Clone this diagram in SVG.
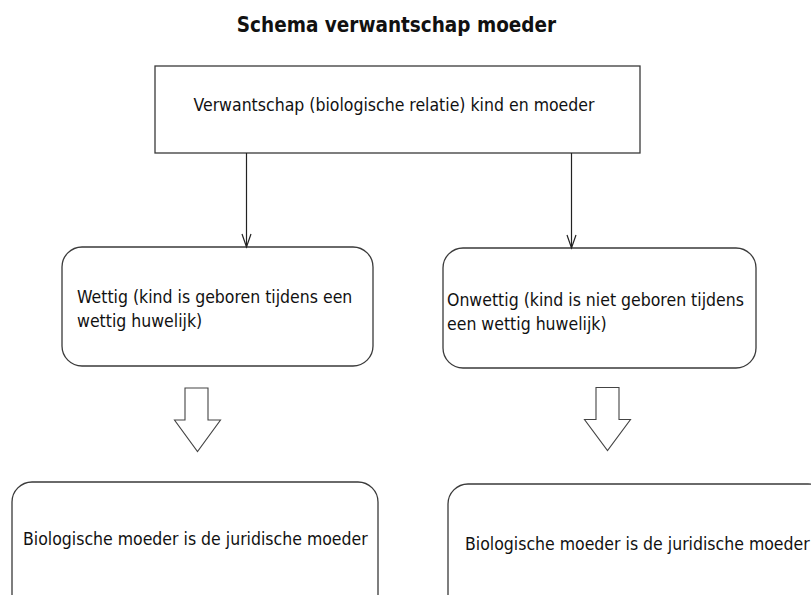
<svg xmlns="http://www.w3.org/2000/svg" width="811" height="595" viewBox="0 0 811 595">
<style>
.box{fill:#fff;stroke:#3a3a3a;stroke-width:1.3}
.t{font-family:"DejaVu Sans Condensed","DejaVu Sans",sans-serif;font-stretch:condensed;font-size:17.5px;fill:#111}
.title{font-family:"DejaVu Sans Condensed","DejaVu Sans",sans-serif;font-stretch:condensed;font-size:20.5px;font-weight:bold;fill:#111}
.conn{fill:none;stroke:#222;stroke-width:1.2}
.block{fill:#fff;stroke:#444;stroke-width:1.1}
</style>
<defs>
<marker id="v" markerWidth="16" markerHeight="12" refX="14" refY="5" orient="auto" markerUnits="userSpaceOnUse" viewBox="0 0 16 10">
<path d="M1,0.5 L14,5 L1,9.5" fill="none" stroke="#222" stroke-width="1.2"/>
</marker>
</defs>
<rect width="811" height="595" fill="#fff"/>
<text id="title" class="title" x="396.5" y="32" text-anchor="middle">Schema verwantschap moeder</text>
<g id="top">
<rect class="box" x="155" y="66" width="485" height="87"/>
<text class="t" x="394" y="111" text-anchor="middle">Verwantschap (biologische relatie) kind en moeder</text>
</g>
<g id="wettig">
<rect class="box" x="62" y="247" width="311" height="119" rx="20" ry="20"/>
<text class="t" x="77" y="303">Wettig (kind is geboren tijdens een</text>
<text class="t" x="77" y="327">wettig huwelijk)</text>
</g>
<g id="onwettig">
<rect class="box" x="443" y="248" width="313" height="120" rx="20" ry="20"/>
<text class="t" x="447" y="306">Onwettig (kind is niet geboren tijdens</text>
<text class="t" x="447" y="330">een wettig huwelijk)</text>
</g>
<g id="bio-left">
<rect class="box" x="12" y="482" width="366" height="140" rx="20" ry="20"/>
<text class="t" x="23" y="545">Biologische moeder is de juridische moeder</text>
</g>
<g id="bio-right">
<rect class="box" x="448" y="484" width="380" height="140" rx="20" ry="20"/>
<text class="t" x="465" y="550">Biologische moeder is de juridische moeder</text>
</g>
<g id="connectors">
<line class="conn" x1="246.5" y1="153" x2="246.5" y2="247" marker-end="url(#v)"/>
<line class="conn" x1="571.5" y1="153" x2="571.5" y2="248" marker-end="url(#v)"/>
<path class="block" d="M185,388 L208,388 L208,420 L220.5,420 L197.5,451.5 L174.5,420 L185,420 Z"/>
<path class="block" d="M596,387.5 L619,387.5 L619,419.5 L630.5,419.5 L607.5,450.5 L584.5,419.5 L596,419.5 Z"/>
</g>
</svg>
